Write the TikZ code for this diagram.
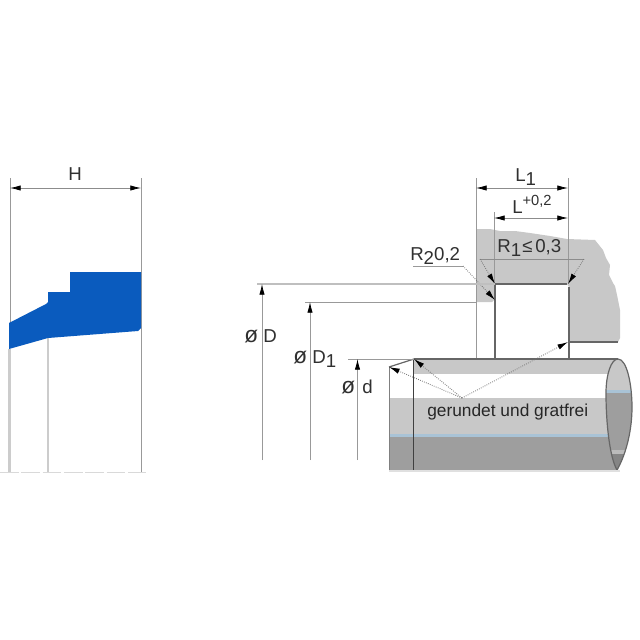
\documentclass[tikz,border=0pt]{standalone}
\usepackage{fontspec}
\setmainfont{Liberation Sans}
\usetikzlibrary{arrows.meta}
\definecolor{gbody}{HTML}{C8C8C8}
\definecolor{gdark}{HTML}{9E9E9E}
\definecolor{gdeep}{HTML}{858585}
\definecolor{bband}{HTML}{A9C3D6}
\definecolor{sealblue}{HTML}{0A5BBE}
\definecolor{txt}{HTML}{303030}
\newcommand{\dia}{{\fontsize{17pt}{17pt}\selectfont ø}}
\tikzset{
  ext/.style={draw=black!40,line width=0.6pt},
  extlight/.style={draw=black!20,line width=1.6pt},
  dim/.style={draw=black!45,line width=0.6pt,{Latex[length=8pt,width=4pt,black]}-{Latex[length=8pt,width=4pt,black]}},
  dimup/.style={draw=black!40,line width=0.6pt,-{Latex[length=8pt,width=4pt,black]}},
  lead/.style={draw=black!55,line width=0.6pt,densely dotted,-{Latex[length=8pt,width=4pt,black]}},
  edge/.style={draw=black!60,line width=0.9pt},
  lbl/.style={text=txt,inner sep=0pt,anchor=base west,font=\fontsize{14pt}{16pt}\selectfont},
}
\begin{document}
\begin{tikzpicture}[x=0.75pt,y=-0.75pt]
\useasboundingbox[fill=white] (0,0) rectangle (640,640);
% seal
\coordinate (hl) at (10,188); \coordinate (hr) at (141,188);
\draw[extlight] (9.5,349) -- (9.5,472);
\draw[ext] (10,178) -- (10,323);
\draw[extlight] (48,338) -- (48,472);
\draw[ext] (141,178) -- (141,472);
\fill[sealblue] (9,323) -- (46,304) -- (48,302) -- (48,292) -- (70,292) -- (70,272) -- (141,272) -- (141,328) -- (138,331) -- (48,338) -- (9,349) -- cycle;
\draw[dim] (hl) -- (hr);
\node[lbl] (H) at (68,180) {H};
\draw[black!15,line width=0.7pt,dash pattern=on 14pt off 2pt] (0,472) -- (146,472);
% housing
\fill[gbody] (476,229) -- (490,229) -- (500,231) -- (515,231) -- (530,233) -- (550,236) -- (567,239) -- (595,240) -- (603,250) -- (606,258) -- (610,265) -- (609,275) -- (613,283) -- (615,286) -- (617,295) -- (620,310) -- (620,338) -- (618,342) -- (569,342) -- (569,287) -- (567,284) -- (495,284) -- (495,299) -- (492,302) -- (476,302) -- cycle;
\draw[edge] (567,284) -- (495,284) -- (495,299);
\draw[edge] (495,299) -- (495,358);
\draw[edge] (569,287) -- (569,358);
\draw[edge] (569,342) -- (618,342);
% cylinder
\begin{scope}
\clip (389,367) -- (414,359) -- (618,359) -- (618,470) -- (389,470) -- cycle;
\fill[gbody] (389,359) rectangle (618,470);
\fill[white] (414,374) rectangle (618,398);
\fill[white] (389,359) rectangle (414,398);
\fill[bband] (389,434) rectangle (618,437);
\fill[gdark] (389,437) rectangle (618,470);
\end{scope}
\begin{scope}
\clip (618,359) .. controls (627,359) and (632,385) .. (632,407) .. controls (632,435) and (624,458) .. (617,470) .. controls (610,458) and (606,425) .. (606,393) .. controls (606,375) and (611,359) .. (618,359);
\fill[gbody] (600,355) rectangle (635,390);
\fill[bband] (600,390) rectangle (635,393);
\fill[gdark] (600,393) rectangle (635,450);
\fill[gbody!70!gdark] (600,450) rectangle (635,454);
\fill[gdeep] (600,454) rectangle (635,472);
\end{scope}
\draw[edge] (618,359) .. controls (627,359) and (632,385) .. (632,407) .. controls (632,435) and (624,458) .. (617,470) .. controls (610,458) and (606,425) .. (606,393) .. controls (606,375) and (611,359) .. (618,359);
\draw[edge] (414,359) -- (618,359);
\draw[edge] (389,367) -- (414,359);
\draw[black!50,line width=0.6pt] (389,367) -- (389,470);
\draw[black!75,line width=0.7pt] (413.5,359) -- (413.5,471);
\draw[black!12,line width=0.8pt] (389,471) -- (620,471);
% dimensions right
\coordinate (la) at (476,188); \coordinate (lb) at (568,188);
\coordinate (sa) at (494,218); \coordinate (sb) at (568,218);
\draw[ext] (476,178) -- (476,358);
\draw[ext] (568,178) -- (568,284);
\draw[ext] (494,212) -- (494,284);
\draw[dim] (la) -- (lb);
\draw[dim] (sa) -- (sb);
\node[lbl] (L1) at (515,181) {L\raisebox{-3.5pt}{1}};
\node[lbl] (L) at (512,213) {L\raisebox{6pt}{\fontsize{11pt}{13pt}\selectfont +0,2}};
\node[lbl] (R1) at (497,252) {R\raisebox{-3.5pt}{1}\hspace{1pt}≤\hspace{2pt}0,3};
\node[lbl] (R2) at (410,260) {R\raisebox{-3.5pt}{2}0,2};
% leaders
\coordinate (ta) at (480,259); \coordinate (tb) at (584,259);
\coordinate (ra) at (495,284); \coordinate (rb) at (568,284);
\draw[black!45,line width=0.6pt] (ta) -- (tb);
\draw[lead] (ta) -- (ra);
\draw[lead] (tb) -- (rb);
\coordinate (r2a) at (413,266); \coordinate (r2b) at (463,266); \coordinate (r2c) at (495,300);
\draw[black!40,line width=0.6pt] (r2a) -- (r2b);
\draw[lead] (r2b) -- (r2c);
% diameter dims
\coordinate (D0) at (262,460); \coordinate (D1) at (262,284);
\coordinate (E0) at (310,460); \coordinate (E1) at (310,302);
\coordinate (F0) at (357.5,460); \coordinate (F1) at (357.5,359);
\draw[draw=black!25,line width=1pt] (257,284) -- (495,284);
\draw[ext] (305,302) -- (476,302);
\draw[ext] (348,359) -- (414,359);
\draw[dimup] (D0) -- (D1);
\draw[dimup] (E0) -- (E1);
\draw[dimup] (F0) -- (F1);
\node[lbl] (dD) at (244,342) {\dia\hspace{4pt}D};
\node[lbl] (dD1) at (293,363) {\dia\hspace{4pt}D\raisebox{-3.5pt}{1}};
\node[lbl] (dd) at (341,393) {\dia\hspace{5.5pt}d};
% rounded note
\coordinate (n) at (462,398);
\draw[lead] (n) -- (389,367);
\draw[lead] (n) -- (414,359);
\draw[lead] (n) -- (568,342);
\node[lbl,text=black!85,font=\fontsize{13pt}{15pt}\selectfont] (note) at (427,416) {gerundet und gratfrei};
\end{tikzpicture}
\end{document}
